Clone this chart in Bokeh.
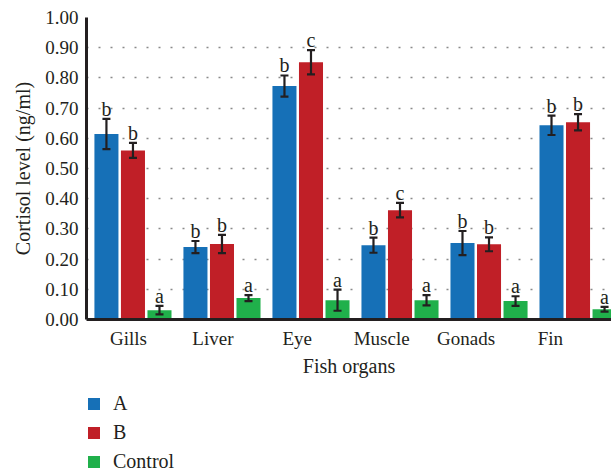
from bokeh.plotting import figure
from bokeh.layouts import column
from bokeh.models import (ColumnDataSource, Whisker, TeeHead, Legend, LegendItem,
                          FixedTicker, NumeralTickFormatter, Range1d)
from bokeh.core.properties import value
from bokeh.embed import file_html
from bokeh.resources import INLINE

organs = ["Gills", "Liver", "Eye", "Muscle", "Gonads", "Fin"]
series = ["A", "B", "Control"]
a_vals = [0.614, 0.240, 0.773, 0.246, 0.253, 0.643]
a_err = [0.050, 0.020, 0.035, 0.025, 0.040, 0.032]
b_vals = [0.560, 0.250, 0.852, 0.362, 0.249, 0.653]
b_err = [0.025, 0.030, 0.040, 0.024, 0.023, 0.027]
c_vals = [0.031, 0.071, 0.064, 0.064, 0.061, 0.034]
c_err = [0.014, 0.010, 0.035, 0.017, 0.016, 0.008]
a_sig = ["b", "b", "b", "b", "b", "b"]
b_sig = ["b", "b", "c", "c", "b", "b"]
c_sig = ["a", "a", "a", "a", "a", "a"]
y_ticks = [0.0, 0.1, 0.2, 0.3, 0.4, 0.5, 0.6, 0.7, 0.8, 0.9, 1.0]

colors = ["#1670b7", "#c01f27", "#20b04b"]
offsets = [-0.298, 0.0, 0.298]
BAR_W = 0.27
LABEL_STEP = 0.948
LABEL_SHIFT = -0.05
INK = "#231f20"
FONT = "Liberation Serif"

p = figure(width=611, height=385, output_backend="svg", toolbar_location=None,
           x_range=Range1d(-0.522, 5.376), y_range=Range1d(0, 1.0),
           min_border_left=86, min_border_right=0, min_border_top=17,
           min_border_bottom=66)
p.outline_line_color = None
p.background_fill_color = "white"
p.border_fill_color = "white"

# legend panel below the chart (its renderers reuse the data, kept out of view)
lg = figure(width=611, height=87, output_backend="svg", toolbar_location=None,
            x_range=Range1d(-0.522, 5.376), y_range=Range1d(5, 6),
            x_axis_location=None, y_axis_location=None,
            min_border_left=0, min_border_right=0, min_border_top=0,
            min_border_bottom=0)
lg.grid.grid_line_color = None
lg.outline_line_color = None

lg_renderers = []
for vals, errs, sig, off, col in zip([a_vals, b_vals, c_vals], [a_err, b_err, c_err],
                                     [a_sig, b_sig, c_sig], offsets, colors):
    xs = [i + off for i in range(len(organs))]
    src = ColumnDataSource(dict(
        x=xs, top=vals,
        upper=[v + e for v, e in zip(vals, errs)],
        lower=[v - e for v, e in zip(vals, errs)],
        sig=sig))
    p.vbar(x="x", top="top", bottom=0, width=BAR_W, source=src,
           fill_color=col, line_color=None)
    lg_renderers.append(lg.vbar(x="x", top="top", bottom=0, width=BAR_W, source=src,
                                fill_color=col, line_color=None))
    w = Whisker(base="x", upper="upper", lower="lower", source=src,
                line_color=INK, line_width=2.2, level="annotation",
                upper_head=TeeHead(size=8, line_color=INK, line_width=2.2),
                lower_head=TeeHead(size=8, line_color=INK, line_width=2.2))
    p.add_layout(w)
    p.text(x="x", y="upper", text="sig", source=src, text_align="center",
           text_baseline="alphabetic", y_offset=-10, text_color=INK,
           text_font=value(FONT), text_font_size="20px")

# axes
p.yaxis.ticker = FixedTicker(ticks=y_ticks)
p.yaxis.formatter = NumeralTickFormatter(format="0.00")
p.xaxis.ticker = FixedTicker(ticks=[i * LABEL_STEP + LABEL_SHIFT for i in range(len(organs))])
p.xaxis.major_label_overrides = {i * LABEL_STEP + LABEL_SHIFT: name for i, name in enumerate(organs)}
for ax in (p.xaxis, p.yaxis):
    ax.axis_line_color = INK
    ax.axis_line_width = 3
    ax.major_tick_line_color = None
    ax.minor_tick_line_color = None
    ax.major_tick_out = 0
    ax.major_tick_in = 0
    ax.minor_tick_out = 0
    ax.major_label_text_font = FONT
    ax.major_label_text_font_size = "19px"
    ax.major_label_text_color = INK
    ax.axis_label_text_font = FONT
    ax.axis_label_text_font_size = "20px"
    ax.axis_label_text_font_style = "normal"
    ax.axis_label_text_color = INK
p.yaxis.axis_label = "Cortisol level (ng/ml)"
p.xaxis.axis_label = "Fish organs"
p.yaxis.major_label_standoff = 8
p.xaxis.major_label_standoff = 8
p.xaxis.axis_label_standoff = 3
p.yaxis.axis_label_standoff = 8

p.xgrid.grid_line_color = None
p.ygrid.ticker = FixedTicker(ticks=y_ticks)
p.ygrid.grid_line_color = "#8a8a8a"
p.ygrid.grid_line_width = 1.6
p.ygrid.grid_line_dash = "2 10"

legend = Legend(items=[LegendItem(label=s, renderers=[r]) for s, r in zip(series, lg_renderers)],
                orientation="vertical", location=(0, -1),
                glyph_width=15, glyph_height=15, label_height=15, spacing=6,
                label_standoff=12, padding=0, margin=0,
                border_line_color=None, background_fill_alpha=0,
                label_text_font=FONT, label_text_font_size="20px",
                label_text_color=INK)
lg.add_layout(legend, "center")

layout = column(p, lg, spacing=0)
open("out.html", "w").write(file_html(layout, INLINE))
